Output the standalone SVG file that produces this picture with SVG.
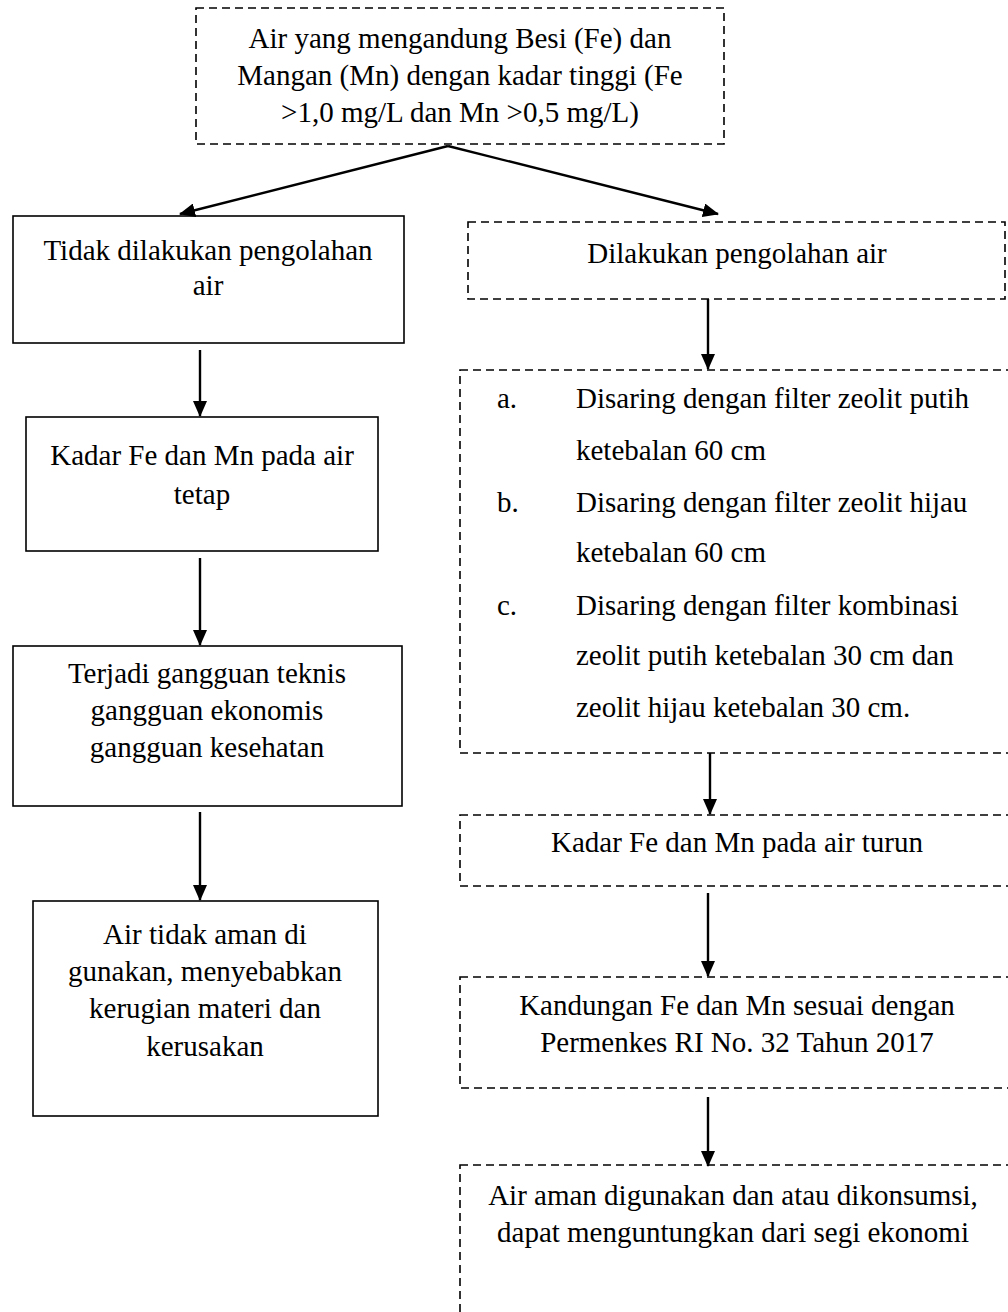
<svg xmlns="http://www.w3.org/2000/svg" width="1008" height="1312" viewBox="0 0 1008 1312">
<defs>
<marker id="ah" markerWidth="16" markerHeight="14" refX="15" refY="7" orient="auto" markerUnits="userSpaceOnUse">
<path d="M0,0 L16,7 L0,14 Z" fill="#000"/>
</marker>
<style>
.box{fill:#fff;stroke:#000;stroke-width:1.6}
.dash{fill:#fff;stroke:#000;stroke-width:1.6;stroke-dasharray:8 5}
.t{font-family:"Liberation Serif","Times New Roman",serif;font-size:29px;fill:#000}
.c{text-anchor:middle}
.conn{stroke:#000;stroke-width:2.4;fill:none;marker-end:url(#ah)}
</style>
</defs>
<rect width="1008" height="1312" fill="#fff"/>
<g id="start">
<rect class="dash" x="196" y="8" width="528" height="136"/>
<text class="t c" x="460" y="48">Air yang mengandung Besi (Fe) dan</text>
<text class="t c" x="460" y="85">Mangan (Mn) dengan kadar tinggi (Fe</text>
<text class="t c" x="460" y="122">&gt;1,0 mg/L dan Mn &gt;0,5 mg/L)</text>
</g>
<g id="left1">
<rect class="box" x="13" y="216" width="391" height="127"/>
<text class="t c" x="208" y="260">Tidak dilakukan pengolahan</text>
<text class="t c" x="208" y="295">air</text>
</g>
<g id="left2">
<rect class="box" x="26" y="417" width="352" height="134"/>
<text class="t c" x="202" y="465">Kadar Fe dan Mn pada air</text>
<text class="t c" x="202" y="504">tetap</text>
</g>
<g id="left3">
<rect class="box" x="13" y="646" width="389" height="160"/>
<text class="t c" x="207" y="683">Terjadi gangguan teknis</text>
<text class="t c" x="207" y="720">gangguan ekonomis</text>
<text class="t c" x="207" y="757">gangguan kesehatan</text>
</g>
<g id="left4">
<rect class="box" x="33" y="901" width="345" height="215"/>
<text class="t c" x="205" y="944">Air tidak aman di</text>
<text class="t c" x="205" y="981">gunakan, menyebabkan</text>
<text class="t c" x="205" y="1018">kerugian materi dan</text>
<text class="t c" x="205" y="1056">kerusakan</text>
</g>
<g id="right1">
<rect class="dash" x="468" y="222" width="537" height="77"/>
<text class="t c" x="737" y="263">Dilakukan pengolahan air</text>
</g>
<g id="right2">
<rect class="dash" x="460" y="370" width="560" height="383"/>
<text class="t" x="497" y="408">a.</text>
<text class="t" x="576" y="408">Disaring dengan filter zeolit putih</text>
<text class="t" x="576" y="460">ketebalan 60 cm</text>
<text class="t" x="497" y="512">b.</text>
<text class="t" x="576" y="512">Disaring dengan filter zeolit hijau</text>
<text class="t" x="576" y="562">ketebalan 60 cm</text>
<text class="t" x="497" y="615">c.</text>
<text class="t" x="576" y="615">Disaring dengan filter kombinasi</text>
<text class="t" x="576" y="665">zeolit putih ketebalan 30 cm dan</text>
<text class="t" x="576" y="717">zeolit hijau ketebalan 30 cm.</text>
</g>
<g id="right3">
<rect class="dash" x="460" y="815" width="560" height="71"/>
<text class="t c" x="737" y="852">Kadar Fe dan Mn pada air turun</text>
</g>
<g id="right4">
<rect class="dash" x="460" y="977" width="560" height="111"/>
<text class="t c" x="737" y="1015">Kandungan Fe dan Mn sesuai dengan</text>
<text class="t c" x="737" y="1052">Permenkes RI No. 32 Tahun 2017</text>
</g>
<g id="right5">
<rect class="dash" x="460" y="1165" width="560" height="170"/>
<text class="t c" x="733" y="1205">Air aman digunakan dan atau dikonsumsi,</text>
<text class="t c" x="733" y="1242">dapat menguntungkan dari segi ekonomi</text>
</g>
<g id="connectors">
<line class="conn" x1="448" y1="146" x2="180" y2="214"/>
<line class="conn" x1="448" y1="146" x2="718" y2="214"/>
<line class="conn" x1="200" y1="350" x2="200" y2="416"/>
<line class="conn" x1="200" y1="558" x2="200" y2="645"/>
<line class="conn" x1="200" y1="812" x2="200" y2="900"/>
<line class="conn" x1="708" y1="299" x2="708" y2="369"/>
<line class="conn" x1="710" y1="753" x2="710" y2="814"/>
<line class="conn" x1="708" y1="893" x2="708" y2="976"/>
<line class="conn" x1="708" y1="1097" x2="708" y2="1166"/>
</g>
</svg>
